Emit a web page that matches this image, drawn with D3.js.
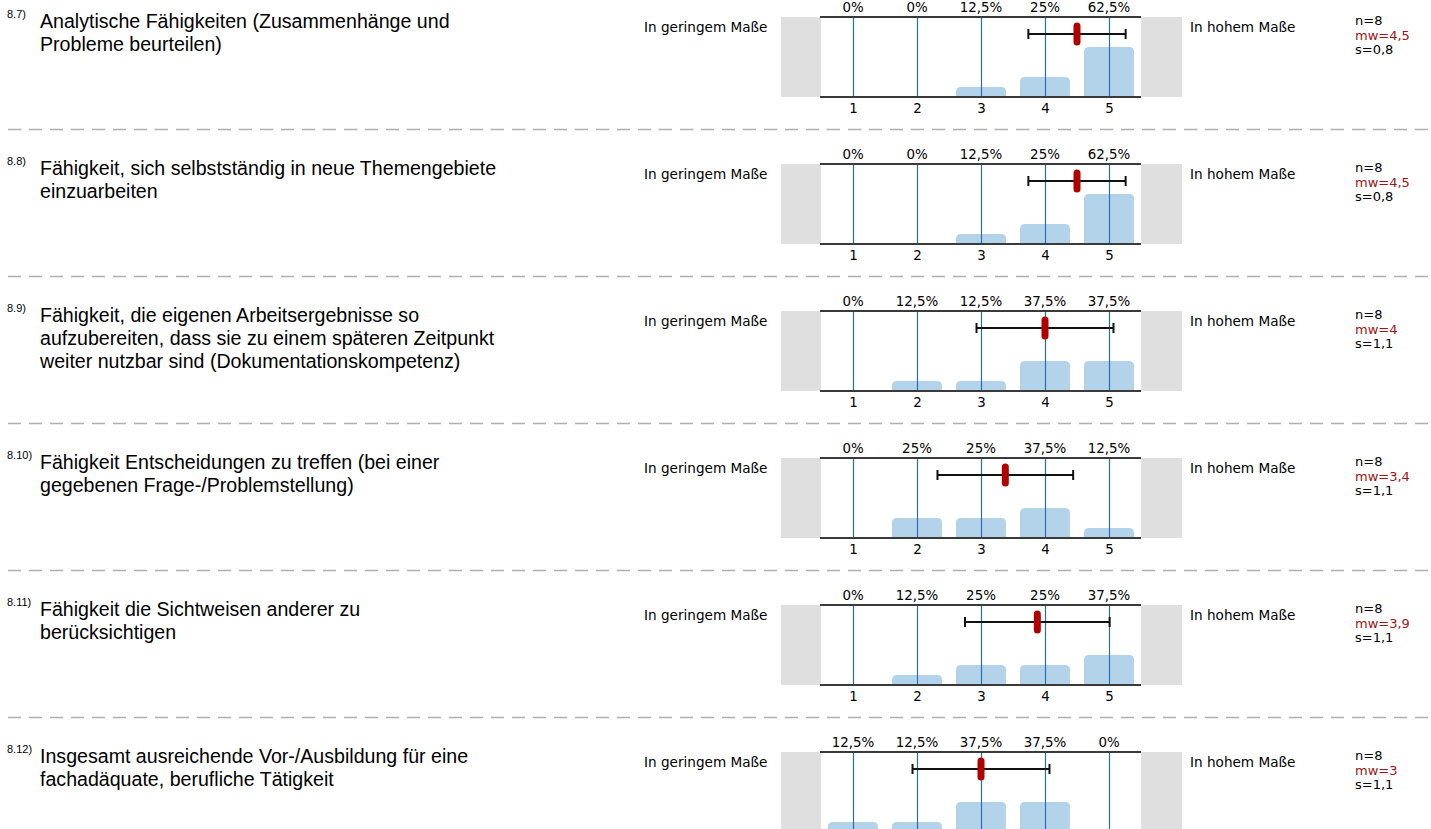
<!DOCTYPE html>
<html><head><meta charset="utf-8">
<script src="https://cdn.jsdelivr.net/npm/d3@7"></script>
<style>
html,body{margin:0;padding:0;background:#fff;overflow:hidden;}
svg{display:block;}
</style></head>
<body>
<svg id="chart" width="1431" height="829"></svg>
<script>
// ---- data ----
const itemNumbers = ["8.7)", "8.8)", "8.9)", "8.10)", "8.11)", "8.12)"];
const itemTitles = [
  ["Analytische Fähigkeiten (Zusammenhänge und", "Probleme beurteilen)"],
  ["Fähigkeit, sich selbstständig in neue Themengebiete", "einzuarbeiten"],
  ["Fähigkeit, die eigenen Arbeitsergebnisse so", "aufzubereiten, dass sie zu einem späteren Zeitpunkt", "weiter nutzbar sind (Dokumentationskompetenz)"],
  ["Fähigkeit Entscheidungen zu treffen (bei einer", "gegebenen Frage-/Problemstellung)"],
  ["Fähigkeit die Sichtweisen anderer zu", "berücksichtigen"],
  ["Insgesamt ausreichende Vor-/Ausbildung für eine", "fachadäquate, berufliche Tätigkeit"]
];
const categories = [1, 2, 3, 4, 5];
const shares = [
  [0, 0, 0.125, 0.25, 0.625],
  [0, 0, 0.125, 0.25, 0.625],
  [0, 0.125, 0.125, 0.375, 0.375],
  [0, 0.25, 0.25, 0.375, 0.125],
  [0, 0.125, 0.25, 0.25, 0.375],
  [0.125, 0.125, 0.375, 0.375, 0]
];
const shareLabels = [
  ["0%", "0%", "12,5%", "25%", "62,5%"],
  ["0%", "0%", "12,5%", "25%", "62,5%"],
  ["0%", "12,5%", "12,5%", "37,5%", "37,5%"],
  ["0%", "25%", "25%", "37,5%", "12,5%"],
  ["0%", "12,5%", "25%", "25%", "37,5%"],
  ["12,5%", "12,5%", "37,5%", "37,5%", "0%"]
];
const nValues = [8, 8, 8, 8, 8, 8];
const means = [4.5, 4.5, 4.0, 3.38, 3.88, 3.0];
const sds = [0.76, 0.76, 1.07, 1.06, 1.13, 1.07];
const meanLabels = ["4,5", "4,5", "4", "3,4", "3,9", "3"];
const sdLabels = ["0,8", "0,8", "1,1", "1,1", "1,1", "1,1"];
const leftPole = "In geringem Maße";
const rightPole = "In hohem Maße";

// ---- layout ----
const W = 1431, H = 829;
const svg = d3.select("#chart");
const panelTop0 = 17, panelStep = 147, plotH = 80;
const x = d3.scaleLinear().domain([1, 5]).range([853, 1109]);
const barW = 50;
const plotL = 821, plotR = 1141;
const labelFont = "'Liberation Sans', Arial, sans-serif";
const smallFont = "'DejaVu Sans', Verdana, sans-serif";

itemTitles.forEach((title, i) => {
  const top = panelTop0 + panelStep * i;
  const g = svg.append("g").attr("transform", `translate(0,${top})`);
  const y = d3.scaleLinear().domain([0, 1]).range([plotH, 0]);

  // separator
  if (i < itemTitles.length - 1) {
    g.append("line").attr("x1", 8).attr("x2", W).attr("y1", 112.5).attr("y2", 112.5)
      .attr("stroke", "#b0b0b0").attr("stroke-width", 1.5).attr("stroke-dasharray", "13,8");
  }

  // number + title
  g.append("text").attr("x", 7).attr("y", 1).attr("font-family", labelFont)
    .attr("font-size", 11).attr("fill", "#000").text(itemNumbers[i]);
  const t = g.append("text").attr("font-family", labelFont)
    .attr("font-size", 19.6).attr("fill", "#000");
  title.forEach((line, k) => {
    t.append("tspan").attr("x", 40).attr("y", 10.5 + k * 23).text(line);
  });

  // poles
  g.append("text").attr("x", 644).attr("y", 15).attr("font-family", smallFont)
    .attr("font-size", 13.6).attr("fill", "#000").text(leftPole);
  g.append("text").attr("x", 1190).attr("y", 15).attr("font-family", smallFont)
    .attr("font-size", 13.6).attr("fill", "#000").text(rightPole);

  // grey side boxes
  g.append("rect").attr("x", 781).attr("y", 0).attr("width", plotL - 781).attr("height", plotH).attr("fill", "#dfdfdf");
  g.append("rect").attr("x", plotR).attr("y", 0).attr("width", 1182 - plotR).attr("height", plotH).attr("fill", "#dfdfdf");

  // bars (rounded top corners)
  const barPath = (cx, h) => {
    if (h <= 0) return "";
    const r = Math.min(5, h);
    const x0 = cx - barW / 2, x1 = cx + barW / 2, yb = plotH, yt = plotH - h;
    return `M${x0},${yb}V${yt + r}Q${x0},${yt} ${x0 + r},${yt}H${x1 - r}Q${x1},${yt} ${x1},${yt + r}V${yb}Z`;
  };
  g.selectAll("path.bar").data(categories).enter().append("path").attr("class", "bar")
    .attr("d", (c, k) => barPath(x(c), plotH - y(shares[i][k])))
    .attr("fill", "#b3d3eb");

  // vertical category lines
  g.selectAll("line.cat").data(categories).enter().append("line").attr("class", "cat")
    .attr("x1", c => x(c) + 0.5).attr("x2", c => x(c) + 0.5).attr("y1", 0).attr("y2", plotH)
    .attr("stroke", "#2a6cb8").attr("stroke-width", 1.2);

  // top and bottom lines
  g.append("line").attr("x1", 820).attr("x2", 1141).attr("y1", 0).attr("y2", 0).attr("stroke", "#3a3a3a").attr("stroke-width", 2);
  g.append("line").attr("x1", 820).attr("x2", 1141).attr("y1", plotH).attr("y2", plotH).attr("stroke", "#3a3a3a").attr("stroke-width", 2);

  // percent labels
  g.selectAll("text.pct").data(categories).enter().append("text").attr("class", "pct")
    .attr("x", c => x(c)).attr("y", -5).attr("text-anchor", "middle")
    .attr("font-family", smallFont).attr("font-size", 13.4).attr("fill", "#000")
    .text((c, k) => shareLabels[i][k]);

  // axis numbers (only where they fall inside the visible window)
  if (top + plotH + 18 < H) {
    const axis = d3.axisBottom(x).tickValues(categories).tickSize(0).tickPadding(5).tickFormat(d3.format("d"));
    const ag = g.append("g").attr("transform", `translate(0,${plotH + 1})`).call(axis);
    ag.select(".domain").remove();
    ag.selectAll("text").attr("font-family", smallFont).attr("font-size", 13.4).attr("fill", "#000");
  }

  // error bar
  const ey = 17;
  const lo = x(means[i] - sds[i]), hi = x(means[i] + sds[i]);
  g.append("line").attr("x1", lo).attr("x2", hi).attr("y1", ey).attr("y2", ey).attr("stroke", "#111").attr("stroke-width", 2);
  g.append("line").attr("x1", lo).attr("x2", lo).attr("y1", ey - 5).attr("y2", ey + 5).attr("stroke", "#111").attr("stroke-width", 2);
  g.append("line").attr("x1", hi).attr("x2", hi).attr("y1", ey - 5).attr("y2", ey + 5).attr("stroke", "#111").attr("stroke-width", 2);
  g.append("rect").attr("x", x(means[i]) - 3.5).attr("y", ey - 11.5).attr("width", 7).attr("height", 23)
    .attr("rx", 3.5).attr("fill", "#b00000");

  // stats
  const st = g.append("g").attr("font-family", smallFont).attr("font-size", 13);
  st.append("text").attr("x", 1355).attr("y", 8).attr("fill", "#000").text("n=" + nValues[i]);
  st.append("text").attr("x", 1355).attr("y", 22.5).attr("fill", "#a01414").text("mw=" + meanLabels[i]);
  st.append("text").attr("x", 1355).attr("y", 37).attr("fill", "#000").text("s=" + sdLabels[i]);
});
</script>
</body></html>
